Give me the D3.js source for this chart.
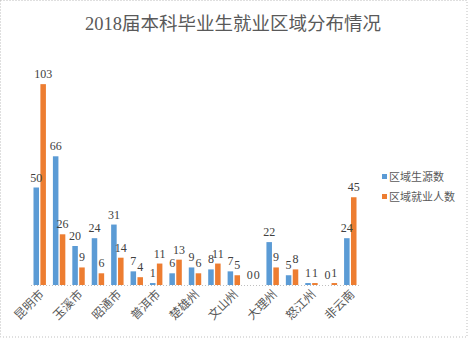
<!DOCTYPE html>
<html>
<head>
<meta charset="utf-8">
<script src="https://cdn.jsdelivr.net/npm/d3@7"></script>
<style>
  html, body { margin: 0; padding: 0; background: #fff; }
  svg { display: block; }
</style>
</head>
<body>
<svg id="chart" width="468" height="338"></svg>
<script>
// Graduates by region: origin count vs. employment count
const categories = ["昆明市", "曲靖市", "玉溪市", "保山市", "昭通市", "丽江市", "普洱市", "临沧市",
  "楚雄州", "红河州", "文山州", "西双版纳州", "大理州", "德宏州", "怒江州", "迪庆州", "非云南"];
const originCounts = [50, 66, 20, 24, 31, 7, 1, 6, 9, 8, 7, 0, 22, 5, 1, 0, 24];
const employedCounts = [103, 26, 9, 6, 14, 4, 11, 13, 6, 11, 5, 0, 9, 8, 1, 1, 45];
const seriesNames = ["区域生源数", "区域就业人数"];
const colors = ["#5B9BD5", "#ED7D31"];
const yMax = 120;

const svg = d3.select("#chart");
const W = 468, H = 338;
const fontFam = "'Liberation Serif', 'Noto Sans CJK SC', serif";

// outer frame
svg.append("rect")
  .attr("x", 0.5).attr("y", 0.5).attr("width", W - 1.5).attr("height", H - 1.5)
  .attr("fill", "#fff").attr("stroke", "#BFBFBF").attr("stroke-dasharray", "1,2");

// title
svg.append("text")
  .attr("x", 233).attr("y", 30)
  .attr("text-anchor", "middle")
  .attr("font-family", fontFam)
  .attr("font-size", 18)
  .attr("fill", "#595959")
  .attr("textLength", 296)
  .attr("lengthAdjust", "spacingAndGlyphs")
  .text("2018届本科毕业生就业区域分布情况");

const x0 = d3.scaleBand().domain(categories).range([30, 360]).paddingInner(0.36).paddingOuter(0.18);
const x1 = d3.scaleBand().domain([0, 1]).range([0, x0.bandwidth()]).paddingInner(0.2);
const y = d3.scaleLinear().domain([0, yMax]).range([285, 51]);

const rows = categories.map((c, i) => ({ cat: c, vals: [originCounts[i], employedCounts[i]] }));

const groups = svg.append("g").selectAll("g")
  .data(rows).join("g")
  .attr("transform", d => `translate(${x0(d.cat)},0)`);

groups.selectAll("rect")
  .data(d => d.vals.map((v, k) => ({ v, k })))
  .join("rect")
  .attr("x", d => x1(d.k))
  .attr("y", d => y(d.v))
  .attr("width", x1.bandwidth())
  .attr("height", d => Math.max(0, y(0) - y(d.v)))
  .attr("fill", d => colors[d.k]);

// tiny stubs for zero-height bars are not drawn; data labels above every bar
groups.selectAll("text.val")
  .data(d => d.vals.map((v, k) => ({ v, k })))
  .join("text")
  .attr("class", "val")
  .attr("x", d => x1(d.k) + x1.bandwidth() / 2)
  .attr("y", d => y(d.v) - 6)
  .attr("text-anchor", "middle")
  .attr("font-family", fontFam)
  .attr("font-size", 12)
  .attr("fill", "#404040")
  .text(d => d.v);

// baseline
svg.append("line")
  .attr("x1", 31).attr("x2", 360)
  .attr("y1", y(0) + 0.5).attr("y2", y(0) + 0.5)
  .attr("stroke", "#BFBFBF").attr("stroke-dasharray", "1,2");

// category axis (every other label shown)
const xAxis = d3.axisBottom(x0)
  .tickValues(categories.filter((c, i) => i % 2 === 0))
  .tickSize(0).tickPadding(0);
const axisG = svg.append("g").attr("transform", `translate(0,${y(0)})`).call(xAxis);
axisG.select(".domain").remove();
axisG.selectAll("text")
  .attr("font-family", fontFam)
  .attr("font-size", 12)
  .attr("fill", "#595959")
  .attr("text-anchor", "end")
  .attr("dy", null)
  .attr("y", 0)
  .attr("transform", "translate(5,10) rotate(-45)");

// legend
const legend = svg.append("g");
seriesNames.forEach((name, i) => {
  const ly = 177 + i * 20;
  legend.append("rect")
    .attr("x", 382).attr("y", ly - 3).attr("width", 5).attr("height", 5)
    .attr("fill", colors[i]);
  legend.append("text")
    .attr("x", 389).attr("y", ly + 4)
    .attr("font-family", fontFam)
    .attr("font-size", 11)
    .attr("fill", "#595959")
    .text(name);
});
</script>
</body>
</html>
